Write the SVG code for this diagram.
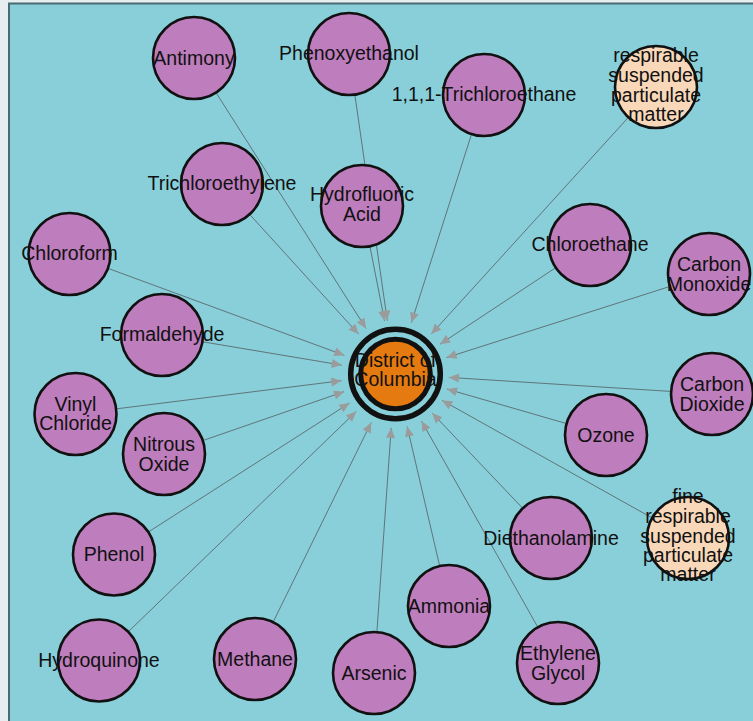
<svg xmlns="http://www.w3.org/2000/svg" width="753" height="721" viewBox="0 0 753 721">
  <style>
    .edge { stroke: #5b6a6e; stroke-width: 0.9; fill: none; marker-end: url(#arrow); }
    .node circle { stroke: #111; stroke-width: 2.6; }
    .chem circle { fill: #be7dbd; }
    .pm circle { fill: #f9d8b9; }
    .hub circle.ring { fill: none; stroke-width: 5.5; }
    .hub circle.core { fill: #e57a10; stroke-width: 5; }
    .node text { font-family: "Liberation Sans", Arial, sans-serif; font-size: 19.5px; fill: #111; text-anchor: middle; }
  </style>
  <defs>
    <marker id="arrow" viewBox="0 -5 10 10" refX="10" refY="0" markerWidth="11" markerHeight="10" markerUnits="userSpaceOnUse" orient="auto">
      <path d="M0,-4.5L10,0L0,4.5Z" fill="#9b9b9b"/>
    </marker>
  </defs>

  <!-- canvas -->
  <rect x="0" y="0" width="753" height="721" fill="#e6eef0"/>
  <rect x="9" y="3.5" width="800" height="800" fill="#88cfd9" stroke="#4a6b72" stroke-width="2"/>

  <!-- connectors: every source points at the central node -->
  <g id="edges">
    <line class="edge" x1="194" y1="58" x2="366.0" y2="328.4"/>
    <line class="edge" x1="349" y1="54" x2="387.3" y2="320.6"/>
    <line class="edge" x1="484" y1="95" x2="411.4" y2="322.6"/>
    <line class="edge" x1="656" y1="87" x2="431.3" y2="334.0"/>
    <line class="edge" x1="222" y1="184" x2="358.6" y2="334.1"/>
    <line class="edge" x1="362" y1="206" x2="384.6" y2="321.0"/>
    <line class="edge" x1="69" y1="254" x2="344.3" y2="355.3"/>
    <line class="edge" x1="590" y1="245" x2="440.0" y2="344.2"/>
    <line class="edge" x1="709" y1="274" x2="446.5" y2="357.6"/>
    <line class="edge" x1="162" y1="335" x2="341.7" y2="365.1"/>
    <line class="edge" x1="75" y1="414" x2="341.4" y2="380.7"/>
    <line class="edge" x1="164" y1="454" x2="344.0" y2="391.7"/>
    <line class="edge" x1="712" y1="394" x2="448.9" y2="377.4"/>
    <line class="edge" x1="606" y1="435" x2="446.9" y2="389.0"/>
    <line class="edge" x1="551" y1="538" x2="432.2" y2="413.1"/>
    <line class="edge" x1="688" y1="538" x2="442.1" y2="400.4"/>
    <line class="edge" x1="114" y1="554" x2="349.5" y2="403.1"/>
    <line class="edge" x1="99" y1="660" x2="356.2" y2="411.5"/>
    <line class="edge" x1="255" y1="659" x2="371.2" y2="422.5"/>
    <line class="edge" x1="374" y1="673" x2="391.2" y2="427.9"/>
    <line class="edge" x1="449" y1="606" x2="407.2" y2="426.6"/>
    <line class="edge" x1="558" y1="663" x2="421.5" y2="421.0"/>
  </g>

  <!-- central node -->
  <g id="district-of-columbia" class="node hub">
    <circle class="ring" cx="395.5" cy="374" r="44.8"/>
    <circle class="core" cx="395.5" cy="374" r="34.8"/>
    <text x="395.5" y="367">District of</text>
    <text x="395.5" y="385.5">Columbia</text>
  </g>

  <!-- source nodes -->
  <g id="antimony" class="node chem"><circle cx="194" cy="58" r="41"/><text x="194" y="65">Antimony</text></g>
  <g id="phenoxyethanol" class="node chem"><circle cx="349" cy="54" r="41"/><text x="349" y="60">Phenoxyethanol</text></g>
  <g id="trichloroethane" class="node chem"><circle cx="484" cy="95" r="41"/><text x="484" y="100.5">1,1,1-Trichloroethane</text></g>
  <g id="rspm" class="node pm"><circle cx="656" cy="87" r="41"/>
    <text x="656" y="62">respirable</text><text x="656" y="82">suspended</text><text x="656" y="102">particulate</text><text x="656" y="121">matter</text></g>
  <g id="trichloroethylene" class="node chem"><circle cx="222" cy="184" r="41"/><text x="222" y="189.5">Trichloroethylene</text></g>
  <g id="hydrofluoric-acid" class="node chem"><circle cx="362" cy="206" r="41"/><text x="362" y="201">Hydrofluoric</text><text x="362" y="221">Acid</text></g>
  <g id="chloroform" class="node chem"><circle cx="69.5" cy="254" r="41"/><text x="69.5" y="259.5">Chloroform</text></g>
  <g id="chloroethane" class="node chem"><circle cx="590" cy="245" r="41"/><text x="590" y="250.5">Chloroethane</text></g>
  <g id="carbon-monoxide" class="node chem"><circle cx="709" cy="274" r="41"/><text x="709" y="271">Carbon</text><text x="709" y="291">Monoxide</text></g>
  <g id="formaldehyde" class="node chem"><circle cx="162" cy="335" r="41"/><text x="162" y="341">Formaldehyde</text></g>
  <g id="vinyl-chloride" class="node chem"><circle cx="75.5" cy="414" r="41"/><text x="75.5" y="411">Vinyl</text><text x="75.5" y="430">Chloride</text></g>
  <g id="nitrous-oxide" class="node chem"><circle cx="164" cy="454" r="41"/><text x="164" y="451">Nitrous</text><text x="164" y="470.5">Oxide</text></g>
  <g id="carbon-dioxide" class="node chem"><circle cx="712" cy="394" r="41"/><text x="712" y="391">Carbon</text><text x="712" y="411">Dioxide</text></g>
  <g id="ozone" class="node chem"><circle cx="606" cy="435" r="41"/><text x="606" y="442">Ozone</text></g>
  <g id="diethanolamine" class="node chem"><circle cx="551" cy="538" r="41"/><text x="551" y="545">Diethanolamine</text></g>
  <g id="fine-rspm" class="node pm"><circle cx="688" cy="538" r="41"/>
    <text x="688" y="503">fine</text><text x="688" y="523">respirable</text><text x="688" y="543">suspended</text><text x="688" y="562">particulate</text><text x="688" y="581">matter</text></g>
  <g id="phenol" class="node chem"><circle cx="114" cy="554.5" r="41"/><text x="114" y="561">Phenol</text></g>
  <g id="hydroquinone" class="node chem"><circle cx="99" cy="660.5" r="41"/><text x="99" y="667">Hydroquinone</text></g>
  <g id="methane" class="node chem"><circle cx="255" cy="659" r="41"/><text x="255" y="666">Methane</text></g>
  <g id="arsenic" class="node chem"><circle cx="374" cy="673" r="41"/><text x="374" y="680">Arsenic</text></g>
  <g id="ammonia" class="node chem"><circle cx="449" cy="606" r="41"/><text x="449" y="613">Ammonia</text></g>
  <g id="ethylene-glycol" class="node chem"><circle cx="558" cy="663" r="41"/><text x="558" y="660">Ethylene</text><text x="558" y="680">Glycol</text></g>
</svg>
